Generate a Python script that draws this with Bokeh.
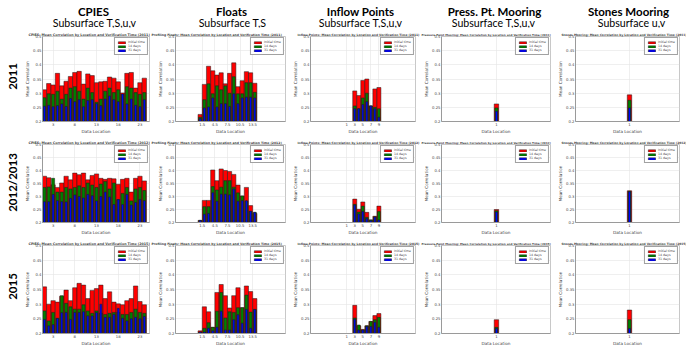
import math
from bokeh.plotting import figure
from bokeh.layouts import row, column
from bokeh.models import Range1d, FixedTicker
from bokeh.embed import file_html
from bokeh.resources import INLINE
from bokeh.core.properties import value

# ---------------- data ----------------
row_years = ["2011", "2012/2013", "2015"]
title_years = ["2011", "2012", "2015"]
column_titles = ["CPIES", "Floats", "Inflow Points", "Press. Pt. Mooring", "Stones Mooring"]
column_subtitles = ["Subsurface T,S,u,v", "Subsurface T,S", "Subsurface T,S,u,v",
                    "Subsurface T,S,u,v", "Subsurface u,v"]
plot_names = ["CPIES", "Profiling Floats", "Inflow Points", "Pressure Point Mooring", "Stones Mooring"]
series_labels = ["Initial time", "14 days", "31 days"]
series_colors = ["#ff0000", "#008000", "#0000ff"]
y_ticks = [0.2, 0.25, 0.3, 0.35, 0.4, 0.45, 0.5]

cpies_locations = list(range(1, 25))
cpies_ticks = [3, 8, 13, 18, 23]
cpies_2011_initial = [0.312, 0.334, 0.329, 0.370, 0.326, 0.342, 0.359, 0.373, 0.377, 0.332, 0.368, 0.362,
                      0.337, 0.340, 0.342, 0.357, 0.353, 0.340, 0.301, 0.370, 0.373, 0.318, 0.337, 0.353]
cpies_2011_14d = [0.284, 0.298, 0.296, 0.307, 0.279, 0.296, 0.318, 0.323, 0.307, 0.279, 0.318, 0.302,
                  0.268, 0.279, 0.307, 0.318, 0.302, 0.312, 0.296, 0.323, 0.318, 0.302, 0.296, 0.302]
cpies_2011_31d = [0.254, 0.257, 0.252, 0.256, 0.262, 0.253, 0.281, 0.270, 0.277, 0.252, 0.274, 0.277,
                  0.263, 0.256, 0.279, 0.290, 0.277, 0.270, 0.297, 0.262, 0.279, 0.257, 0.252, 0.277]
cpies_2012_initial = [0.378, 0.372, 0.345, 0.335, 0.352, 0.378, 0.364, 0.390, 0.384, 0.390, 0.364, 0.381,
                      0.387, 0.370, 0.366, 0.370, 0.368, 0.347, 0.366, 0.370, 0.317, 0.370, 0.378, 0.360]
cpies_2012_14d = [0.335, 0.337, 0.370, 0.317, 0.317, 0.335, 0.329, 0.335, 0.341, 0.335, 0.352, 0.344,
                  0.335, 0.348, 0.358, 0.329, 0.352, 0.288, 0.312, 0.335, 0.283, 0.329, 0.335, 0.323]
cpies_2012_31d = [0.280, 0.280, 0.308, 0.284, 0.280, 0.279, 0.293, 0.306, 0.300, 0.294, 0.308, 0.303,
                  0.283, 0.300, 0.317, 0.298, 0.269, 0.288, 0.269, 0.308, 0.267, 0.277, 0.288, 0.284]
cpies_2015_initial = [0.359, 0.300, 0.312, 0.307, 0.327, 0.348, 0.312, 0.356, 0.371, 0.365, 0.319, 0.347,
                      0.353, 0.365, 0.319, 0.342, 0.307, 0.301, 0.298, 0.312, 0.319, 0.362, 0.309, 0.298]
cpies_2015_14d = [0.277, 0.243, 0.272, 0.252, 0.329, 0.303, 0.291, 0.283, 0.283, 0.298, 0.277, 0.269,
                  0.277, 0.269, 0.265, 0.269, 0.272, 0.272, 0.265, 0.265, 0.272, 0.283, 0.272, 0.269]
cpies_2015_31d = [0.248, 0.226, 0.230, 0.251, 0.271, 0.272, 0.248, 0.272, 0.272, 0.274, 0.260, 0.260,
                  0.271, 0.300, 0.255, 0.255, 0.265, 0.286, 0.252, 0.243, 0.250, 0.255, 0.250, 0.258]

floats_locations = list(range(1, 15))
floats_ticks = [1.5, 4.5, 7.5, 10.5, 13.5]
floats_2011_initial = [0.225, 0.331, 0.395, 0.379, 0.364, 0.372, 0.333, 0.370, 0.407, 0.323, 0.344, 0.376, 0.372, 0.335]
floats_2011_14d = [0.215, 0.277, 0.333, 0.298, 0.326, 0.312, 0.326, 0.300, 0.358, 0.298, 0.298, 0.337, 0.337, 0.303]
floats_2011_31d = [0.210, 0.248, 0.251, 0.283, 0.251, 0.263, 0.263, 0.253, 0.298, 0.263, 0.283, 0.286, 0.286, 0.283]
floats_2012_initial = [0.208, 0.285, 0.285, 0.402, 0.361, 0.406, 0.400, 0.396, 0.385, 0.344, 0.302, 0.335, 0.265, 0.235]
floats_2012_14d = [0.208, 0.261, 0.261, 0.338, 0.325, 0.336, 0.361, 0.361, 0.336, 0.314, 0.302, 0.282, 0.243, 0.239]
floats_2012_31d = [0.208, 0.232, 0.235, 0.314, 0.282, 0.309, 0.309, 0.306, 0.329, 0.282, 0.284, 0.284, 0.243, 0.239]
floats_2015_initial = [0.209, 0.291, 0.274, 0.221, 0.340, 0.367, 0.329, 0.287, 0.329, 0.356, 0.288, 0.362, 0.343, 0.319]
floats_2015_14d = [0.205, 0.218, 0.237, 0.221, 0.276, 0.340, 0.253, 0.274, 0.272, 0.288, 0.288, 0.331, 0.273, 0.282]
floats_2015_31d = [0.205, 0.205, 0.218, 0.209, 0.221, 0.276, 0.212, 0.212, 0.247, 0.264, 0.235, 0.282, 0.218, 0.282]

inflow_locations = [3, 4, 5, 6, 7, 8, 9]
inflow_ticks = [1, 3, 5, 7, 9]
inflow_2011_initial = [0.308, 0.292, 0.345, 0.350, 0.255, 0.315, 0.320]
inflow_2011_14d = [0.255, 0.245, 0.283, 0.300, 0.255, 0.250, 0.245]
inflow_2011_31d = [0.245, 0.245, 0.260, 0.270, 0.255, 0.245, 0.215]
inflow_2012_initial = [0.290, 0.251, 0.279, 0.239, 0.210, 0.224, 0.263]
inflow_2012_14d = [0.270, 0.240, 0.263, 0.220, 0.210, 0.222, 0.242]
inflow_2012_31d = [0.267, 0.233, 0.242, 0.215, 0.207, 0.221, 0.210]
inflow_2015_initial = [0.296, 0.226, 0.214, 0.226, 0.241, 0.261, 0.268]
inflow_2015_14d = [0.253, 0.229, 0.212, 0.226, 0.241, 0.247, 0.255]
inflow_2015_31d = [0.249, 0.212, 0.212, 0.224, 0.224, 0.238, 0.221]

press_locations = [1]
press_ticks = [1]
press_2011_initial = [0.262]
press_2011_14d = [0.248]
press_2011_31d = [0.236]
press_2012_initial = [0.250]
press_2012_14d = [0.245]
press_2012_31d = [0.240]
press_2015_initial = [0.247]
press_2015_14d = [0.221]
press_2015_31d = [0.217]

stones_locations = [1]
stones_ticks = [1]
stones_2011_initial = [0.294]
stones_2011_14d = [0.275]
stones_2011_31d = [0.248]
stones_2012_initial = [0.322]
stones_2012_14d = [0.320]
stones_2012_31d = [0.318]
stones_2015_initial = [0.280]
stones_2015_14d = [0.247]
stones_2015_31d = [0.217]

panel_data = [
    [(cpies_locations, cpies_ticks, cpies_2011_initial, cpies_2011_14d, cpies_2011_31d),
     (floats_locations, floats_ticks, floats_2011_initial, floats_2011_14d, floats_2011_31d),
     (inflow_locations, inflow_ticks, inflow_2011_initial, inflow_2011_14d, inflow_2011_31d),
     (press_locations, press_ticks, press_2011_initial, press_2011_14d, press_2011_31d),
     (stones_locations, stones_ticks, stones_2011_initial, stones_2011_14d, stones_2011_31d)],
    [(cpies_locations, cpies_ticks, cpies_2012_initial, cpies_2012_14d, cpies_2012_31d),
     (floats_locations, floats_ticks, floats_2012_initial, floats_2012_14d, floats_2012_31d),
     (inflow_locations, inflow_ticks, inflow_2012_initial, inflow_2012_14d, inflow_2012_31d),
     (press_locations, press_ticks, press_2012_initial, press_2012_14d, press_2012_31d),
     (stones_locations, stones_ticks, stones_2012_initial, stones_2012_14d, stones_2012_31d)],
    [(cpies_locations, cpies_ticks, cpies_2015_initial, cpies_2015_14d, cpies_2015_31d),
     (floats_locations, floats_ticks, floats_2015_initial, floats_2015_14d, floats_2015_31d),
     (inflow_locations, inflow_ticks, inflow_2015_initial, inflow_2015_14d, inflow_2015_31d),
     (press_locations, press_ticks, press_2015_initial, press_2015_14d, press_2015_31d),
     (stones_locations, stones_ticks, stones_2015_initial, stones_2015_14d, stones_2015_31d)],
]

# ---------------- layout / style ----------------
LABEL_W = 22
HEADER_H = 28
TILE_W = [128, 140, 130, 135, 131]
BORDER_L = [15, 25, 14, 21, 15]
BORDER_R = [1, 5, 5, 5, 7]
ROW_H = [108, 101, 114]
BORDER_T = [8, 8, 8]
BORDER_B = [12, 11, 18]
X_RANGES = [(0.56, 25.2), (-4.86, 21.3), (-8.0, 18.1), (-11.2, 13.0), (-11.2, 12.3)]
BAR_W = [1.0, 0.7, 0.45]
SMALL_FONT = "DejaVu Sans"
TITLE_CHAR_EM = 0.58


def make_panel(ri, ci):
    locs, ticks, init, d14, d31 = panel_data[ri][ci]
    title_text = "%s: Mean Correlation by Location and Verification Time (%s)" % (plot_names[ci], title_years[ri])
    p = figure(width=TILE_W[ci], height=ROW_H[ri],
               x_range=Range1d(*X_RANGES[ci]), y_range=Range1d(0.2, 0.5),
               output_backend="svg", toolbar_location=None,
               min_border_left=BORDER_L[ci], min_border_right=BORDER_R[ci],
               min_border_top=BORDER_T[ri], min_border_bottom=BORDER_B[ri],
               title=title_text)
    for vals, w, lab, col in zip([init, d14, d31], BAR_W, series_labels, series_colors):
        p.vbar(x=locs, top=vals, bottom=0, width=w, fill_color=col, line_color="#1a1a1a",
               line_width=0.5, legend_label=lab)
    fs = min(4.0, (TILE_W[ci] - 6) / (TITLE_CHAR_EM * len(title_text)))
    p.title.text_font = SMALL_FONT
    p.title.text_font_size = "%.2fpx" % fs
    p.title.text_font_style = "bold"
    p.title.text_line_height = 1.0
    p.title.align = "left"
    p.title.offset = -(BORDER_L[ci] - 1)
    try:
        p.title.standoff = 0
    except Exception:
        pass
    p.xaxis.ticker = FixedTicker(ticks=ticks)
    p.yaxis.ticker = FixedTicker(ticks=y_ticks)
    p.yaxis.major_label_overrides = {t: ("%g" % t) for t in y_ticks}
    p.xaxis.axis_label = "Data Location"
    p.yaxis.axis_label = "Mean Correlation"
    for ax in p.axis:
        ax.major_label_text_font = SMALL_FONT
        ax.major_label_text_font_size = "3.8px"
        ax.major_label_text_color = "#444444"
        ax.axis_label_text_font = SMALL_FONT
        ax.axis_label_text_font_size = "4.2px"
        ax.axis_label_text_font_style = "normal"
        ax.axis_label_text_color = "#444444"
        ax.major_label_standoff = 1
        ax.axis_label_standoff = 0
        ax.major_tick_out = 0
        ax.major_tick_in = 0
        ax.minor_tick_out = 0
        ax.minor_tick_in = 0
        ax.axis_line_color = "#9a9a9a"
    p.grid.grid_line_color = "#e4e4e4"
    p.grid.grid_line_width = 0.6
    p.outline_line_color = "#c8c8c8"
    p.background_fill_color = "white"
    p.border_fill_color = "white"
    lg = p.legend[0]
    lg.location = "top_right"
    lg.margin = 1
    lg.padding = 2
    lg.spacing = 0
    lg.glyph_width = 9
    lg.glyph_height = 3
    lg.label_height = 3
    lg.label_width = 16
    lg.label_standoff = 2
    lg.label_text_font = SMALL_FONT
    lg.label_text_font_size = "3.2px"
    lg.border_line_color = "#444444"
    lg.border_line_width = 0.5
    lg.background_fill_alpha = 1.0
    return p


# header
total_w = LABEL_W + sum(TILE_W)
hdr = figure(width=total_w, height=HEADER_H, x_range=Range1d(0, total_w), y_range=Range1d(HEADER_H, 0),
             output_backend="svg", toolbar_location=None, min_border=0, title=None,
             x_axis_location=None, y_axis_location=None)
hdr.grid.visible = False
hdr.outline_line_color = None
col_centers = [93, 231, 360, 494, 628]
sub_centers = [94, 232, 360, 493, 631]
hdr.text(x=col_centers, y=[11] * 5, text=column_titles, text_font=value("Lato"),
         text_font_style="bold", text_font_size="11.5px", text_align="center",
         text_baseline="middle", text_color="black")
hdr.text(x=sub_centers, y=[22.4] * 5, text=column_subtitles, text_font=value("Lato"),
         text_font_size="10.6px", text_align="center", text_baseline="middle",
         text_color="black")

# row labels
body_h = sum(ROW_H)
lab = figure(width=LABEL_W, height=body_h, x_range=Range1d(0, LABEL_W),
             y_range=Range1d(HEADER_H + body_h, HEADER_H),
             output_backend="svg", toolbar_location=None, min_border=0, title=None,
             x_axis_location=None, y_axis_location=None)
lab.grid.visible = False
lab.outline_line_color = None
lab.text(x=[12] * 3, y=[76, 182, 286], text=row_years, angle=math.pi / 2,
         text_font=value("Lato"), text_font_style="bold", text_font_size="11.5px",
         text_align="center", text_baseline="middle", text_color="black")

rows = [row(*[make_panel(ri, ci) for ci in range(5)]) for ri in range(3)]
layout = column(hdr, row(lab, column(*rows)))

open("out.html", "w").write(file_html(layout, INLINE))
